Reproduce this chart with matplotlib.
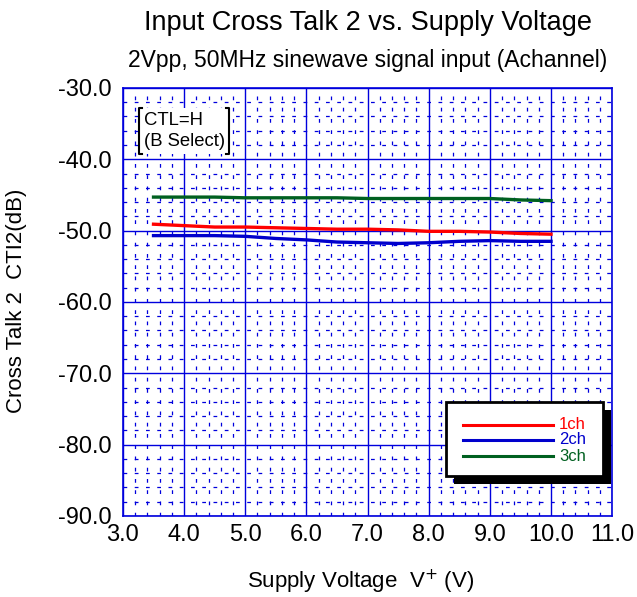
import numpy as np
import matplotlib
matplotlib.use("Agg")
import matplotlib.pyplot as plt
from matplotlib.patches import Rectangle
from matplotlib.ticker import MultipleLocator, FormatStrFormatter

plt.rcParams['font.family'] = ['Liberation Sans', 'DejaVu Sans']

# supply voltage [V]
vcc = [3.5, 4.0, 4.5, 5.0, 5.5, 6.0, 6.5, 7.0, 7.5, 8.0, 8.5, 9.0, 9.5, 10.0]
# cross talk [dB]
ch1 = [-49.1, -49.3, -49.5, -49.5, -49.6, -49.7, -49.8, -49.8, -49.9, -50.1, -50.1, -50.2, -50.4, -50.5]
ch2 = [-50.7, -50.7, -50.7, -50.8, -51.1, -51.3, -51.6, -51.7, -51.8, -51.7, -51.5, -51.4, -51.5, -51.5]
ch3 = [-45.3, -45.3, -45.3, -45.4, -45.4, -45.4, -45.4, -45.5, -45.5, -45.5, -45.5, -45.5, -45.7, -45.8]
labels = ["1ch", "2ch", "3ch"]
colors = ["#ff0000", "#0000cc", "#006020"]

grid_blue = "#0000dd"

fig = plt.figure(figsize=(6.37, 5.97), dpi=100)
ax = fig.add_axes([0.193, 0.1357, 0.768, 0.717])

for yv, lab, col in zip([ch1, ch2, ch3], labels, colors):
    ax.plot(vcc, yv, color=col, lw=2.4, label=lab, zorder=3)

ax.set_xlim(3.0, 11.0)
ax.set_ylim(-90, -30)
ax.xaxis.set_major_locator(MultipleLocator(1.0))
ax.xaxis.set_minor_locator(MultipleLocator(0.2))
ax.yaxis.set_major_locator(MultipleLocator(10))
ax.yaxis.set_minor_locator(MultipleLocator(2))
ax.xaxis.set_major_formatter(FormatStrFormatter("%.1f"))
ax.yaxis.set_major_formatter(FormatStrFormatter("%.1f"))
ax.grid(True, which="major", color=grid_blue, lw=1.0)
ax.grid(True, which="minor", color=grid_blue, lw=0.9, ls=(0, (3, 6)))
ax.tick_params(which="both", length=0, labelsize=17)
ax.tick_params(axis="y", pad=8)
ax.tick_params(axis="x", pad=6)
for s in ax.spines.values():
    s.set_color(grid_blue)
    s.set_linewidth(1.2)

fig.text(0.577, 0.9497, "Input Cross Talk 2 vs. Supply Voltage", ha="center", va="baseline", fontsize=19.5)
fig.text(0.577, 0.8883, "2Vpp, 50MHz sinewave signal input (Achannel)", ha="center", va="baseline", fontsize=16.5)
fig.text(0.566, 0.0151, "Supply Voltage  V$^{+}$ (V)", ha="center", va="baseline", fontsize=16)
fig.text(0.026, 0.4966, "Cross Talk 2  CTI2(dB)", ha="center", va="center", rotation=90, fontsize=16)

# CTL note box with bracket sides
x0, x1, y0, y1 = 3.26, 4.74, -39.25, -32.8
ax.add_patch(Rectangle((x0, y0), x1 - x0, y1 - y0, facecolor="white", edgecolor="none", zorder=4))
for xs in (x0, x1):
    d = 0.05 if xs == x0 else -0.05
    ax.plot([xs + d, xs, xs, xs + d], [y0, y0, y1, y1], color="black", lw=1.5, zorder=5)
ax.text(x0 + 0.09, -34.5, "CTL=H", fontsize=13.3, va="center", zorder=6)
ax.text(x0 + 0.09, -37.5, "(B Select)", fontsize=13.3, va="center", zorder=6)

# legend box with drop shadow
lx0, lx1, ly0, ly1 = 8.28, 10.85, -84.4, -74.0
ax.add_patch(Rectangle((lx0 + 0.13, ly0 - 1.1), lx1 - lx0, ly1 - ly0, facecolor="black", zorder=6))
ax.add_patch(Rectangle((lx0, ly0), lx1 - lx0, ly1 - ly0, facecolor="white", edgecolor="black", lw=2, zorder=7))
for yy, lab, col in zip([-77.2, -79.3, -81.6], labels, colors):
    ax.plot([8.56, 10.03], [yy, yy], color=col, lw=2.2, zorder=8)
    ax.text(10.57, yy, lab, color=col, fontsize=12, ha="right", va="center", zorder=8)

fig.savefig("out.png", dpi=100)
